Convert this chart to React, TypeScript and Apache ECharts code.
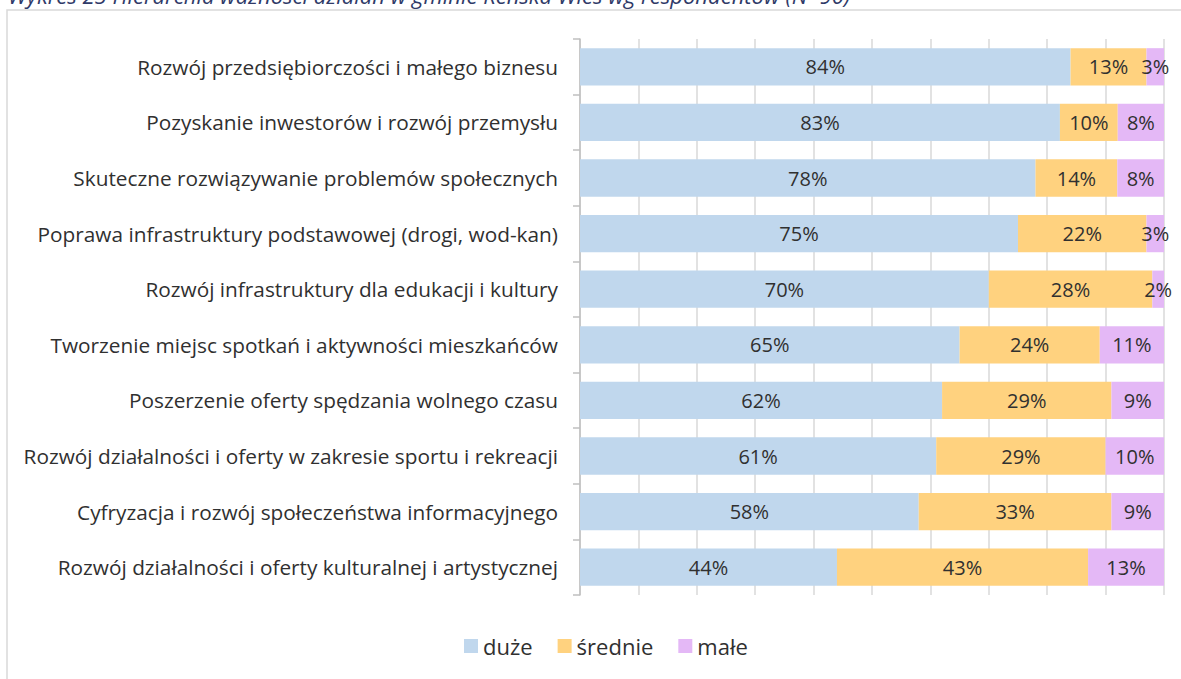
import React, { useEffect, useRef } from "react";
import * as echarts from "echarts";

const titleText = "Wykres 25 Hierarchia ważności działań w gminie Reńska Wieś wg respondentów (N=90)";

const categories = [
  "Rozwój przedsiębiorczości i małego biznesu",
  "Pozyskanie inwestorów i rozwój przemysłu",
  "Skuteczne rozwiązywanie problemów społecznych",
  "Poprawa infrastruktury podstawowej (drogi, wod-kan)",
  "Rozwój infrastruktury dla edukacji i kultury",
  "Tworzenie miejsc spotkań i aktywności mieszkańców",
  "Poszerzenie oferty spędzania wolnego czasu",
  "Rozwój działalności i oferty w zakresie sportu i rekreacji",
  "Cyfryzacja i rozwój społeczeństwa informacyjnego",
  "Rozwój działalności i oferty kulturalnej i artystycznej",
];

const seriesNames = ["duże", "średnie", "małe"];
const duze = [84, 83, 78, 75, 70, 65, 62, 61, 58, 44];
const srednie = [13, 10, 14, 22, 28, 24, 29, 29, 33, 43];
const male = [3, 8, 8, 3, 2, 11, 9, 10, 9, 13];
const colors = ["#C0D7ED", "#FFD27F", "#E4B8F6"];

const FONT = "'Open Sans', 'Noto Sans', sans-serif";

export default function App() {
  const ref = useRef<HTMLDivElement>(null);
  useEffect(() => {
    if (!ref.current) return;
    const chart = echarts.init(ref.current, null, { renderer: "svg" });
    const raw = [duze, srednie, male];
    const totals = categories.map((_, i) => duze[i] + srednie[i] + male[i]);
    const series = raw.map((arr, s) => ({
      name: seriesNames[s],
      type: "bar",
      stack: "total",
      barCategoryGap: "33%",
      data: arr.map((v, i) => ({ value: (v / totals[i]) * 100, raw: v })),
      itemStyle: { color: colors[s] },
      label: {
        show: true,
        position: "inside",
        formatter: (p: any) => `${p.data.raw}%`,
        fontFamily: FONT,
        fontSize: 20,
        color: "#303030",
      },
    }));
    chart.setOption({
      animation: false,
      backgroundColor: "#ffffff",
      graphic: [
        {
          type: "rect",
          shape: { x: 7, y: 10, width: 1200, height: 700 },
          style: { fill: "none", stroke: "#d9d9d9", lineWidth: 1.5 },
          z: -1,
        },
        {
          type: "text",
          x: 8,
          y: 6,
          style: {
            text: titleText,
            font: `italic 22px ${FONT}`,
            fill: "#2f3a68",
            verticalAlign: "bottom",
          },
        },
      ],
      legend: {
        data: seriesNames,
        left: 459,
        top: 630,
        icon: "rect",
        itemWidth: 14,
        itemHeight: 14,
        itemGap: 25,
        itemStyle: { borderWidth: 0 },
        textStyle: { fontFamily: FONT, fontSize: 22, color: "#303030" },
      },
      grid: { left: 580, right: 17, top: 39, bottom: 84, containLabel: false },
      xAxis: {
        type: "value",
        min: 0,
        max: 100,
        interval: 10,
        axisLabel: { show: false },
        axisLine: { show: false },
        axisTick: { show: false },
        splitLine: { show: true, lineStyle: { color: "#d9d9d9", width: 1.5 } },
      },
      yAxis: {
        type: "category",
        inverse: true,
        data: categories,
        axisLine: { show: true, lineStyle: { color: "#bfbfbf", width: 1.5 } },
        axisTick: { show: true, length: 7, lineStyle: { color: "#bfbfbf", width: 1.5 } },
        axisLabel: {
          fontFamily: FONT,
          fontSize: 20.8,
          color: "#303030",
          margin: 22,
        },
      },
      series,
    });
    return () => chart.dispose();
  }, []);
  return (
    <div
      ref={ref}
      style={{ position: "absolute", left: 0, top: 0, width: 1181, height: 679 }}
    />
  );
}
